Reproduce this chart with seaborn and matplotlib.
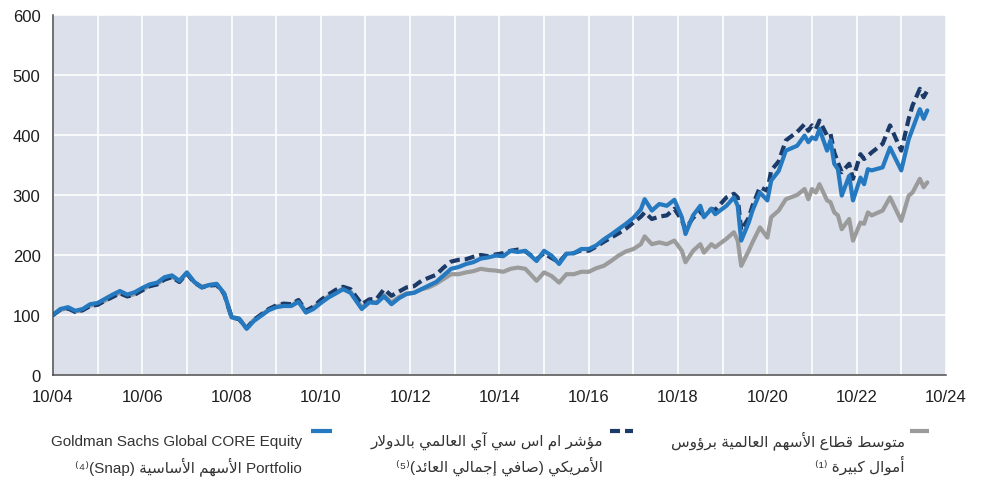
import pandas as pd
import numpy as np
import matplotlib
matplotlib.use("Agg")
import matplotlib.pyplot as plt
import seaborn as sns
from matplotlib.lines import Line2D

# === Data (index, 10/2004 = 100) ===
dates = [
    "2004-10", "2004-12", "2005-02", "2005-04", "2005-06", "2005-08", "2005-10", "2005-12",
    "2006-02", "2006-04", "2006-06", "2006-08", "2006-10", "2006-12", "2007-02", "2007-04",
    "2007-06", "2007-08", "2007-10", "2007-12", "2008-02", "2008-04", "2008-06", "2008-08",
    "2008-10", "2008-12", "2009-02", "2009-04", "2009-06", "2009-08", "2009-10", "2009-12",
    "2010-02", "2010-04", "2010-06", "2010-08", "2010-10", "2010-12", "2011-02", "2011-04",
    "2011-06", "2011-09", "2011-11", "2012-01", "2012-03", "2012-05", "2012-07", "2012-09",
    "2012-11", "2013-01", "2013-03", "2013-05", "2013-07", "2013-09", "2013-11", "2014-01",
    "2014-03", "2014-05", "2014-07", "2014-09", "2014-11", "2015-01", "2015-03", "2015-05",
    "2015-08", "2015-10", "2015-12", "2016-02", "2016-04", "2016-06", "2016-08", "2016-10",
    "2016-12", "2017-02", "2017-04", "2017-06", "2017-08", "2017-10", "2017-12", "2018-01",
    "2018-03", "2018-05", "2018-07", "2018-09", "2018-11", "2018-12", "2019-02", "2019-04",
    "2019-05", "2019-07", "2019-08", "2019-11", "2020-01", "2020-02", "2020-03", "2020-05",
    "2020-06", "2020-08", "2020-10", "2020-11", "2021-01", "2021-03", "2021-06", "2021-08",
    "2021-09", "2021-10", "2021-11", "2021-12", "2022-02", "2022-03", "2022-04", "2022-05",
    "2022-06", "2022-08", "2022-09", "2022-11", "2022-12", "2023-01", "2023-02", "2023-05",
    "2023-07", "2023-10", "2023-12", "2024-01", "2024-03", "2024-04", "2024-05",
]

gs_core = [
    100, 110, 113, 107, 110, 118, 120, 127,
    134, 140, 134, 138, 145, 151, 154, 163,
    166, 157, 171, 155, 146, 150, 152, 136,
    96, 94, 77, 90, 99, 108, 113, 115,
    115, 122, 104, 110, 120, 129, 136, 143,
    137, 110, 121, 120, 131, 118, 128, 135,
    137, 143, 149, 155, 166, 177, 180, 185,
    188, 194, 196, 199, 198, 207, 205, 207,
    190, 207, 199, 185, 202, 203, 210, 210,
    216, 226, 234, 243, 252, 262, 276, 293,
    274, 285, 282, 292, 263, 235, 266, 282,
    263, 277, 268, 282, 296, 282, 224, 254,
    274, 304, 291, 324, 340, 374, 382, 399,
    388, 396, 393, 410, 374, 391, 352, 343,
    299, 332, 291, 329, 318, 343, 341, 346,
    379, 341, 393, 410, 443, 427, 441,
]

msci_world = [
    100, 109, 111, 105, 108, 115, 117, 124,
    130, 136, 131, 134, 141, 148, 151, 159,
    163, 155, 169, 154, 146, 149, 150, 135,
    96, 93, 78, 92, 101, 110, 116, 119,
    118, 125, 107, 114, 125, 134, 142, 147,
    143, 118, 126, 127, 143, 132, 139, 146,
    148, 157, 162, 167, 179, 189, 192, 193,
    197, 200, 198, 201, 203, 207, 209, 206,
    193, 203, 195, 188, 202, 203, 208, 207,
    214, 222, 229, 236, 244, 254, 264, 271,
    260, 264, 266, 277, 258, 243, 262, 272,
    265, 277, 275, 296, 302, 296, 241, 262,
    282, 313, 307, 341, 356, 391, 405, 418,
    407, 416, 410, 424, 399, 402, 371, 354,
    338, 352, 327, 368, 360, 365, 371, 385,
    416, 374, 427, 449, 477, 463, 474,
]

peer_avg = [
    100, 109, 111, 106, 108, 116, 117, 124,
    131, 137, 131, 135, 142, 149, 152, 160,
    164, 156, 170, 155, 147, 150, 151, 136,
    97, 94, 78, 92, 100, 109, 114, 117,
    116, 123, 106, 112, 122, 131, 138, 144,
    139, 113, 122, 121, 133, 121, 130, 136,
    137, 143, 146, 152, 160, 168, 168, 171,
    173, 177, 175, 174, 172, 177, 179, 177,
    157, 171, 165, 154, 168, 168, 172, 172,
    178, 182, 190, 199, 206, 210, 218, 231,
    218, 221, 218, 224, 207, 188, 207, 218,
    204, 218, 213, 227, 238, 224, 182, 207,
    221, 246, 229, 263, 274, 293, 300, 310,
    293, 310, 304, 318, 291, 288, 271, 266,
    243, 260, 224, 254, 252, 271, 266, 274,
    296, 257, 299, 304, 327, 313, 321,
]

x_tick_years = list(range(2004, 2025))

# === Legend texts ===
label_gs_1 = "Goldman Sachs Global CORE Equity"
label_gs_2_ar = "الأسهم الأساسية"
label_msci_1 = "مؤشر ام اس سي آي العالمي بالدولار"
label_msci_2 = "الأمريكي (صافي إجمالي العائد)"
label_peer_1 = "متوسط قطاع الأسهم العالمية برؤوس"
label_peer_2 = "أموال كبيرة"

# === Colours ===
BG = "#dbe0ea"
C_GS = "#2479c0"
C_MSCI = "#1b3a68"
C_PEER = "#9b9b9b"
C_AXIS = "#4a4a4a"

# --- minimal Arabic shaping (matplotlib draws no joined forms / RTL by itself) ---
AR = {
    'ء': (0xFE80, 1), 'آ': (0xFE81, 2), 'أ': (0xFE83, 2), 'ؤ': (0xFE85, 2), 'إ': (0xFE87, 2),
    'ئ': (0xFE89, 4), 'ا': (0xFE8D, 2), 'ب': (0xFE8F, 4), 'ة': (0xFE93, 2), 'ت': (0xFE95, 4),
    'ث': (0xFE99, 4), 'ج': (0xFE9D, 4), 'ح': (0xFEA1, 4), 'خ': (0xFEA5, 4), 'د': (0xFEA9, 2),
    'ذ': (0xFEAB, 2), 'ر': (0xFEAD, 2), 'ز': (0xFEAF, 2), 'س': (0xFEB1, 4), 'ش': (0xFEB5, 4),
    'ص': (0xFEB9, 4), 'ض': (0xFEBD, 4), 'ط': (0xFEC1, 4), 'ظ': (0xFEC5, 4), 'ع': (0xFEC9, 4),
    'غ': (0xFECD, 4), 'ف': (0xFED1, 4), 'ق': (0xFED5, 4), 'ك': (0xFED9, 4), 'ل': (0xFEDD, 4),
    'م': (0xFEE1, 4), 'ن': (0xFEE5, 4), 'ه': (0xFEE9, 4), 'و': (0xFEED, 2), 'ى': (0xFEEF, 2),
    'ي': (0xFEF1, 4),
}
LAM_ALEF = {'آ': 0xFEF5, 'أ': 0xFEF7, 'إ': 0xFEF9, 'ا': 0xFEFB}


def rtl(text):
    chars = list(text)
    out = []
    i = 0
    while i < len(chars):
        c = chars[i]
        if c not in AR:
            out.append(c)
            i += 1
            continue
        prev_joins = i > 0 and chars[i - 1] in AR and AR[chars[i - 1]][1] == 4
        if c == 'ل' and i + 1 < len(chars) and chars[i + 1] in LAM_ALEF:
            out.append(chr(LAM_ALEF[chars[i + 1]] + (1 if prev_joins else 0)))
            i += 2
            continue
        base, nforms = AR[c]
        next_ok = i + 1 < len(chars) and chars[i + 1] in AR and chars[i + 1] != 'ء'
        joins_next = nforms == 4 and next_ok
        if prev_joins and joins_next:
            form = 3
        elif prev_joins:
            form = 1 if nforms > 1 else 0
        elif joins_next:
            form = 2
        else:
            form = 0
        out.append(chr(base + form))
        i += 1
    swap = {'(': ')', ')': '('}
    return ''.join(swap.get(ch, ch) for ch in reversed(out))


# === Plot ===
sns.set_theme(style="white")
FONTS = ['Liberation Sans', 'DejaVu Sans']
plt.rcParams['font.family'] = FONTS

df = pd.DataFrame({
    "date": pd.to_datetime(dates),
    "gs": gs_core,
    "msci": msci_world,
    "peer": peer_avg,
})

W, H = 981, 481
fig = plt.figure(figsize=(W / 100, H / 100), dpi=100)
ax = fig.add_axes([53 / W, 1 - 376 / H, (946 - 53) / W, 360 / H])
ax.set_facecolor(BG)

LW = 3.0
DASHES = (2.4, 1.2)
sns.lineplot(data=df, x="date", y="peer", ax=ax, color=C_PEER, linewidth=LW)
sns.lineplot(data=df, x="date", y="msci", ax=ax, color=C_MSCI, linewidth=LW)
ax.lines[-1].set_dashes(DASHES)
sns.lineplot(data=df, x="date", y="gs", ax=ax, color=C_GS, linewidth=LW)

ax.set_xlim(pd.Timestamp("2004-10-01"), pd.Timestamp("2024-10-01"))
ax.set_ylim(0, 600)
ax.set_yticks(np.arange(0, 601, 100))

tick_dates = [pd.Timestamp(f"{y}-10-01") for y in x_tick_years]
ax.set_xticks(tick_dates)
ax.set_xticklabels([f"10/{y % 100:02d}" if (y - 2004) % 2 == 0 else "" for y in x_tick_years])

ax.set_xlabel("")
ax.set_ylabel("")
ax.grid(True, color="white", linewidth=1.2)
ax.set_axisbelow(True)

for side in ["top", "right"]:
    ax.spines[side].set_visible(False)
for side in ["left", "bottom"]:
    ax.spines[side].set_color(C_AXIS)
    ax.spines[side].set_linewidth(1.1)

ax.tick_params(axis="both", colors=C_AXIS, labelcolor="#1e1e1e", labelsize=12,
               length=6, width=1.1, direction="out")
ax.tick_params(axis="y", pad=3)
ax.tick_params(axis="x", pad=4)

# === Legend below the chart (text right-aligned, sample line on its right) ===
TXT = dict(fontsize=11, color="#333333", ha="right", va="baseline", family=FONTS)


def fx(px):
    return px / W


def fy(py):
    return 1 - py / H


legend_items = [
    (302, 311, 332, C_GS, None,
     label_gs_1, "\u207d\u2074\u207e(Snap) " + rtl(label_gs_2_ar) + " Portfolio"),
    (603, 610, 633, C_MSCI, DASHES,
     rtl(label_msci_1), "\u207d\u2075\u207e" + rtl(label_msci_2)),
    (905, 910, 929, C_PEER, None,
     rtl(label_peer_1), "\u207d\u00b9\u207e " + rtl(label_peer_2)),
]

for text_right, x0, x1, color, dashes, line1, line2 in legend_items:
    fig.text(fx(text_right), fy(446), line1, **TXT)
    fig.text(fx(text_right), fy(472), line2, **TXT)
    handle = Line2D([fx(x0), fx(x1)], [fy(432), fy(432)], transform=fig.transFigure,
                    color=color, linewidth=LW, solid_capstyle="butt", dash_capstyle="butt")
    if dashes:
        handle.set_dashes(dashes)
    fig.add_artist(handle)

fig.savefig("out.png", dpi=100)
